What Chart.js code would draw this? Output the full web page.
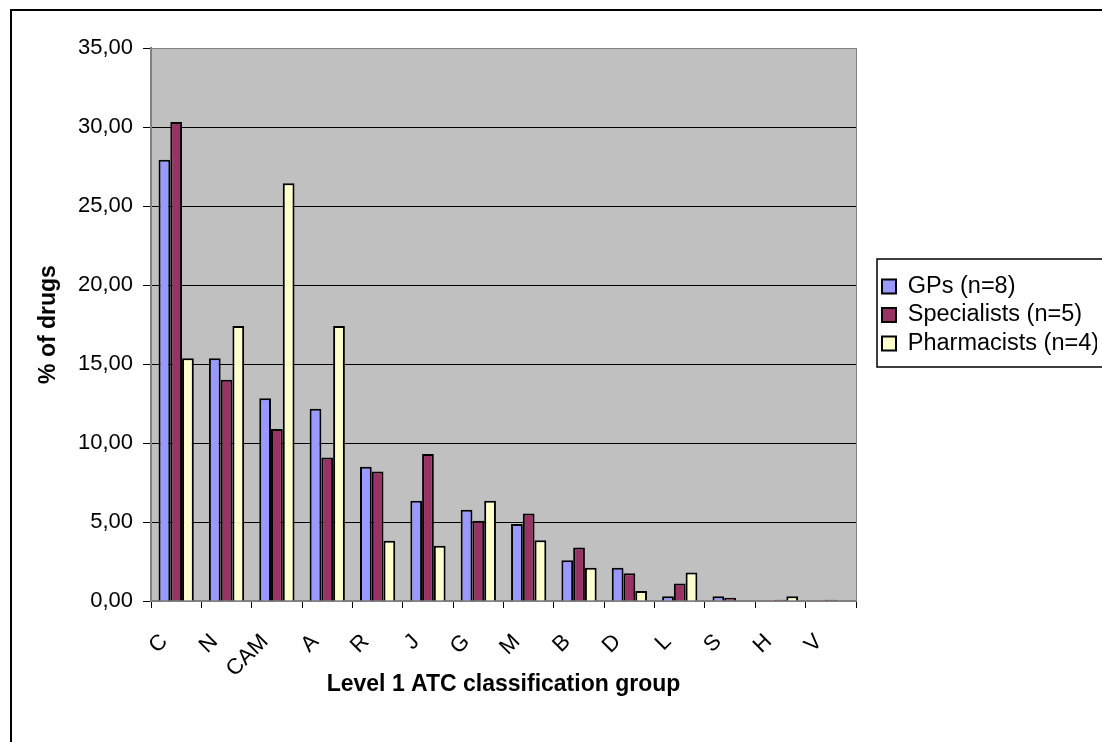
<!DOCTYPE html>
<html>
<head>
<meta charset="utf-8">
<script src="https://cdn.jsdelivr.net/npm/chart.js@4.4.1/dist/chart.umd.min.js"></script>
<style>
  html, body { margin: 0; padding: 0; background: #fff; overflow: hidden; }
  canvas { display: block; }
</style>
</head>
<body>
<canvas id="atcChart" width="1102" height="742"></canvas>
<script>
// datos
let grupos = ["C", "N", "CAM", "A", "R", "J", "G", "M", "B", "D", "L", "S", "H", "V"]
let gps = [27.92, 15.37, 12.84, 12.16, 8.50, 6.35, 5.77, 4.87, 2.58, 2.11, 0.30, 0.30, 0, 0]
let especialistas = [30.32, 14.00, 10.89, 9.09, 8.19, 9.31, 5.08, 5.54, 3.38, 1.76, 1.10, 0.20, 0.08, 0.08]
let farmaceuticos = [15.37, 17.40, 26.44, 17.40, 3.81, 3.49, 6.35, 3.85, 2.11, 0.63, 1.80, 0, 0.30, 0]

let etiquetas = ["GPs (n=8)", "Specialists (n=5)", "Pharmacists (n=4)"]
let yMax = 35
let yPaso = 5

Chart.defaults.font.family = "'Liberation Sans', Arial, sans-serif"
Chart.defaults.color = "#000"

let ctx = document.getElementById("atcChart").getContext("2d")

// fondo gris del area de trazado, marco exterior y recuadro de la leyenda
let fondo = {
    id: "fondo",
    beforeDraw(chart) {
        let c = chart.ctx
        let a = chart.chartArea
        c.save()
        c.fillStyle = "#fff"
        c.fillRect(0, 0, chart.width, chart.height)
        c.strokeStyle = "#000"
        c.lineWidth = 2
        c.strokeRect(11, 10, chart.width + 40, chart.height + 40)
        c.fillStyle = "#c0c0c0"
        c.fillRect(a.left, a.top, a.right - a.left, a.bottom - a.top)
        c.strokeStyle = "#808080"
        c.lineWidth = 1
        c.strokeRect(a.left + 0.5, a.top + 0.5, a.right - a.left, a.bottom - a.top)
        c.restore()
    },
    afterLayout(chart) {
        let lg = chart.legend
        let dx = 877 - lg.left
        lg.left += dx
        lg.right += dx
        lg.top -= 80
        lg.bottom -= 80
    },
    afterDraw(chart) {
        let c = chart.ctx
        c.save()
        c.strokeStyle = "#000"
        c.lineWidth = 1.5
        c.strokeRect(877, 259, 300, 108)
        c.restore()
    }
}

let myBarChart = new Chart(ctx, {
    type: "bar",
    data: {
        labels: grupos,
        datasets: [
            {
                label: etiquetas[0],
                data: gps,
                backgroundColor: "#9999ff",
                borderColor: "#000",
                borderWidth: 2,
            },
            {
                label: etiquetas[1],
                data: especialistas,
                backgroundColor: "#993366",
                borderColor: "#000",
                borderWidth: 2,
            },
            {
                label: etiquetas[2],
                data: farmaceuticos,
                backgroundColor: "#ffffcc",
                borderColor: "#000",
                borderWidth: 2,
            },
        ],
    },
    options: {
        responsive: false,
        animation: false,
        layout: { padding: { left: 35, top: 48, right: 26, bottom: 0 } },
        datasets: {
            bar: { categoryPercentage: 0.7, barPercentage: 1.0 }
        },
        plugins: {
            tooltip: { enabled: false },
            legend: {
                position: "right",
                maxWidth: 220,
                labels: {
                    boxWidth: 14,
                    boxHeight: 14,
                    padding: 5,
                    color: "#000",
                    font: { size: 23.5 },
                },
            },
        },
        scales: {
            x: {
                grid: { drawOnChartArea: false, tickLength: 7, color: "#000" },
                border: { color: "#808080", width: 2 },
                ticks: {
                    autoSkip: false,
                    minRotation: 45,
                    maxRotation: 45,
                    labelOffset: -12,
                    padding: 21,
                    font: { size: 22 },
                },
                title: {
                    display: true,
                    text: "Level 1 ATC classification group",
                    font: { size: 23, weight: "bold" },
                    padding: { top: 0, bottom: 44 },
                },
                afterFit: function (s) { s.height = 141 },
            },
            y: {
                min: 0,
                max: yMax,
                ticks: {
                    stepSize: yPaso,
                    padding: 10,
                    font: { size: 22 },
                    callback: function (v) { return v.toFixed(2).replace(".", ",") },
                },
                grid: {
                    color: function (c) { return (c.tick && (c.tick.value === 0 || c.tick.value === yMax)) ? "#808080" : "#000" },
                    tickColor: "#000",
                    tickLength: 8,
                },
                border: { color: "#808080", width: 2 },
                title: {
                    display: true,
                    text: "% of drugs",
                    font: { size: 23, weight: "bold" },
                    padding: { top: 0, bottom: 15 },
                },
                afterFit: function (s) { s.width = 116 },
            },
        },
    },
    plugins: [fondo],
})
</script>
</body>
</html>
